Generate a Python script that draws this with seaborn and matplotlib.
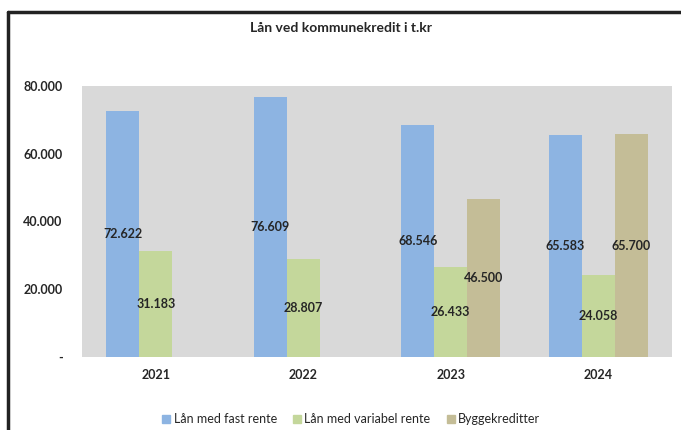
import numpy as np
import pandas as pd
import seaborn as sns
import matplotlib.pyplot as plt
from matplotlib.lines import Line2D

years = ["2021", "2022", "2023", "2024"]
fast_rente = [72622, 76609, 68546, 65583]
variabel_rente = [31183, 28807, 26433, 24058]
byggekreditter = [np.nan, np.nan, 46500, 65700]
series = ["Lån med fast rente", "Lån med variabel rente", "Byggekreditter"]
colors = ["#8db4e2", "#c4d79b", "#c4bd97"]
yticks = [0, 20000, 40000, 60000, 80000]

df = pd.DataFrame({
    "year": years * 3,
    "value": fast_rente + variabel_rente + byggekreditter,
    "serie": [s for s in series for _ in years],
})

sns.set_style("white")
plt.rcParams["font.family"] = ["Lato", "DejaVu Sans"]

fig = plt.figure(figsize=(6.81, 4.30), dpi=100)
ax = fig.add_axes([0.1204, 0.1698, 0.8664, 0.6302])

sns.barplot(data=df, x="year", y="value", hue="serie", hue_order=series,
            palette=colors, width=0.67, saturation=1, linewidth=0,
            ax=ax, legend=False)
ax.set_facecolor("#d9d9d9")
for s in ax.spines.values():
    s.set_visible(False)

ax.set_ylim(0, 80000)
ax.set_yticks(yticks)
ax.set_yticklabels(["-" if v == 0 else f"{v:,.0f}".replace(",", ".") for v in yticks],
                   fontweight="bold", fontsize=9)
ax.tick_params(axis="y", length=0, pad=14)
ax.tick_params(axis="x", length=0, pad=9)
for lab in ax.get_xticklabels():
    lab.set_fontweight("bold")
    lab.set_fontsize(9)
ax.set_xlabel("")
ax.set_ylabel("")

# value labels centred in the bars
for cont in ax.containers:
    labels = []
    for bar in cont:
        h = bar.get_height()
        labels.append("" if np.isnan(h) or h == 0 else f"{h:,.0f}".replace(",", "."))
    ax.bar_label(cont, labels=labels, label_type="center", fontweight="bold", fontsize=9)

fig.text(0.5, 0.935, "Lån ved kommunekredit i t.kr", ha="center", va="center",
         fontweight="bold", fontsize=10)

handles = [Line2D([], [], marker="s", linestyle="", markersize=6,
                  markerfacecolor=c, markeredgecolor=c) for c in colors]
fig.legend(handles, series, loc="center", bbox_to_anchor=(0.514, 0.025),
           ncol=3, frameon=False, fontsize=9, columnspacing=1.1,
           handletextpad=0.1, handlelength=1.0)

# outer chart border (left and top visible)
fig.add_artist(Line2D([8 / 681, 8 / 681], [0, 1 - 12 / 430], color="#222222", lw=2.5,
                      transform=fig.transFigure))
fig.add_artist(Line2D([8 / 681, 1], [1 - 12 / 430, 1 - 12 / 430], color="#222222", lw=2.5,
                      transform=fig.transFigure))

fig.savefig("out.png", dpi=100)
